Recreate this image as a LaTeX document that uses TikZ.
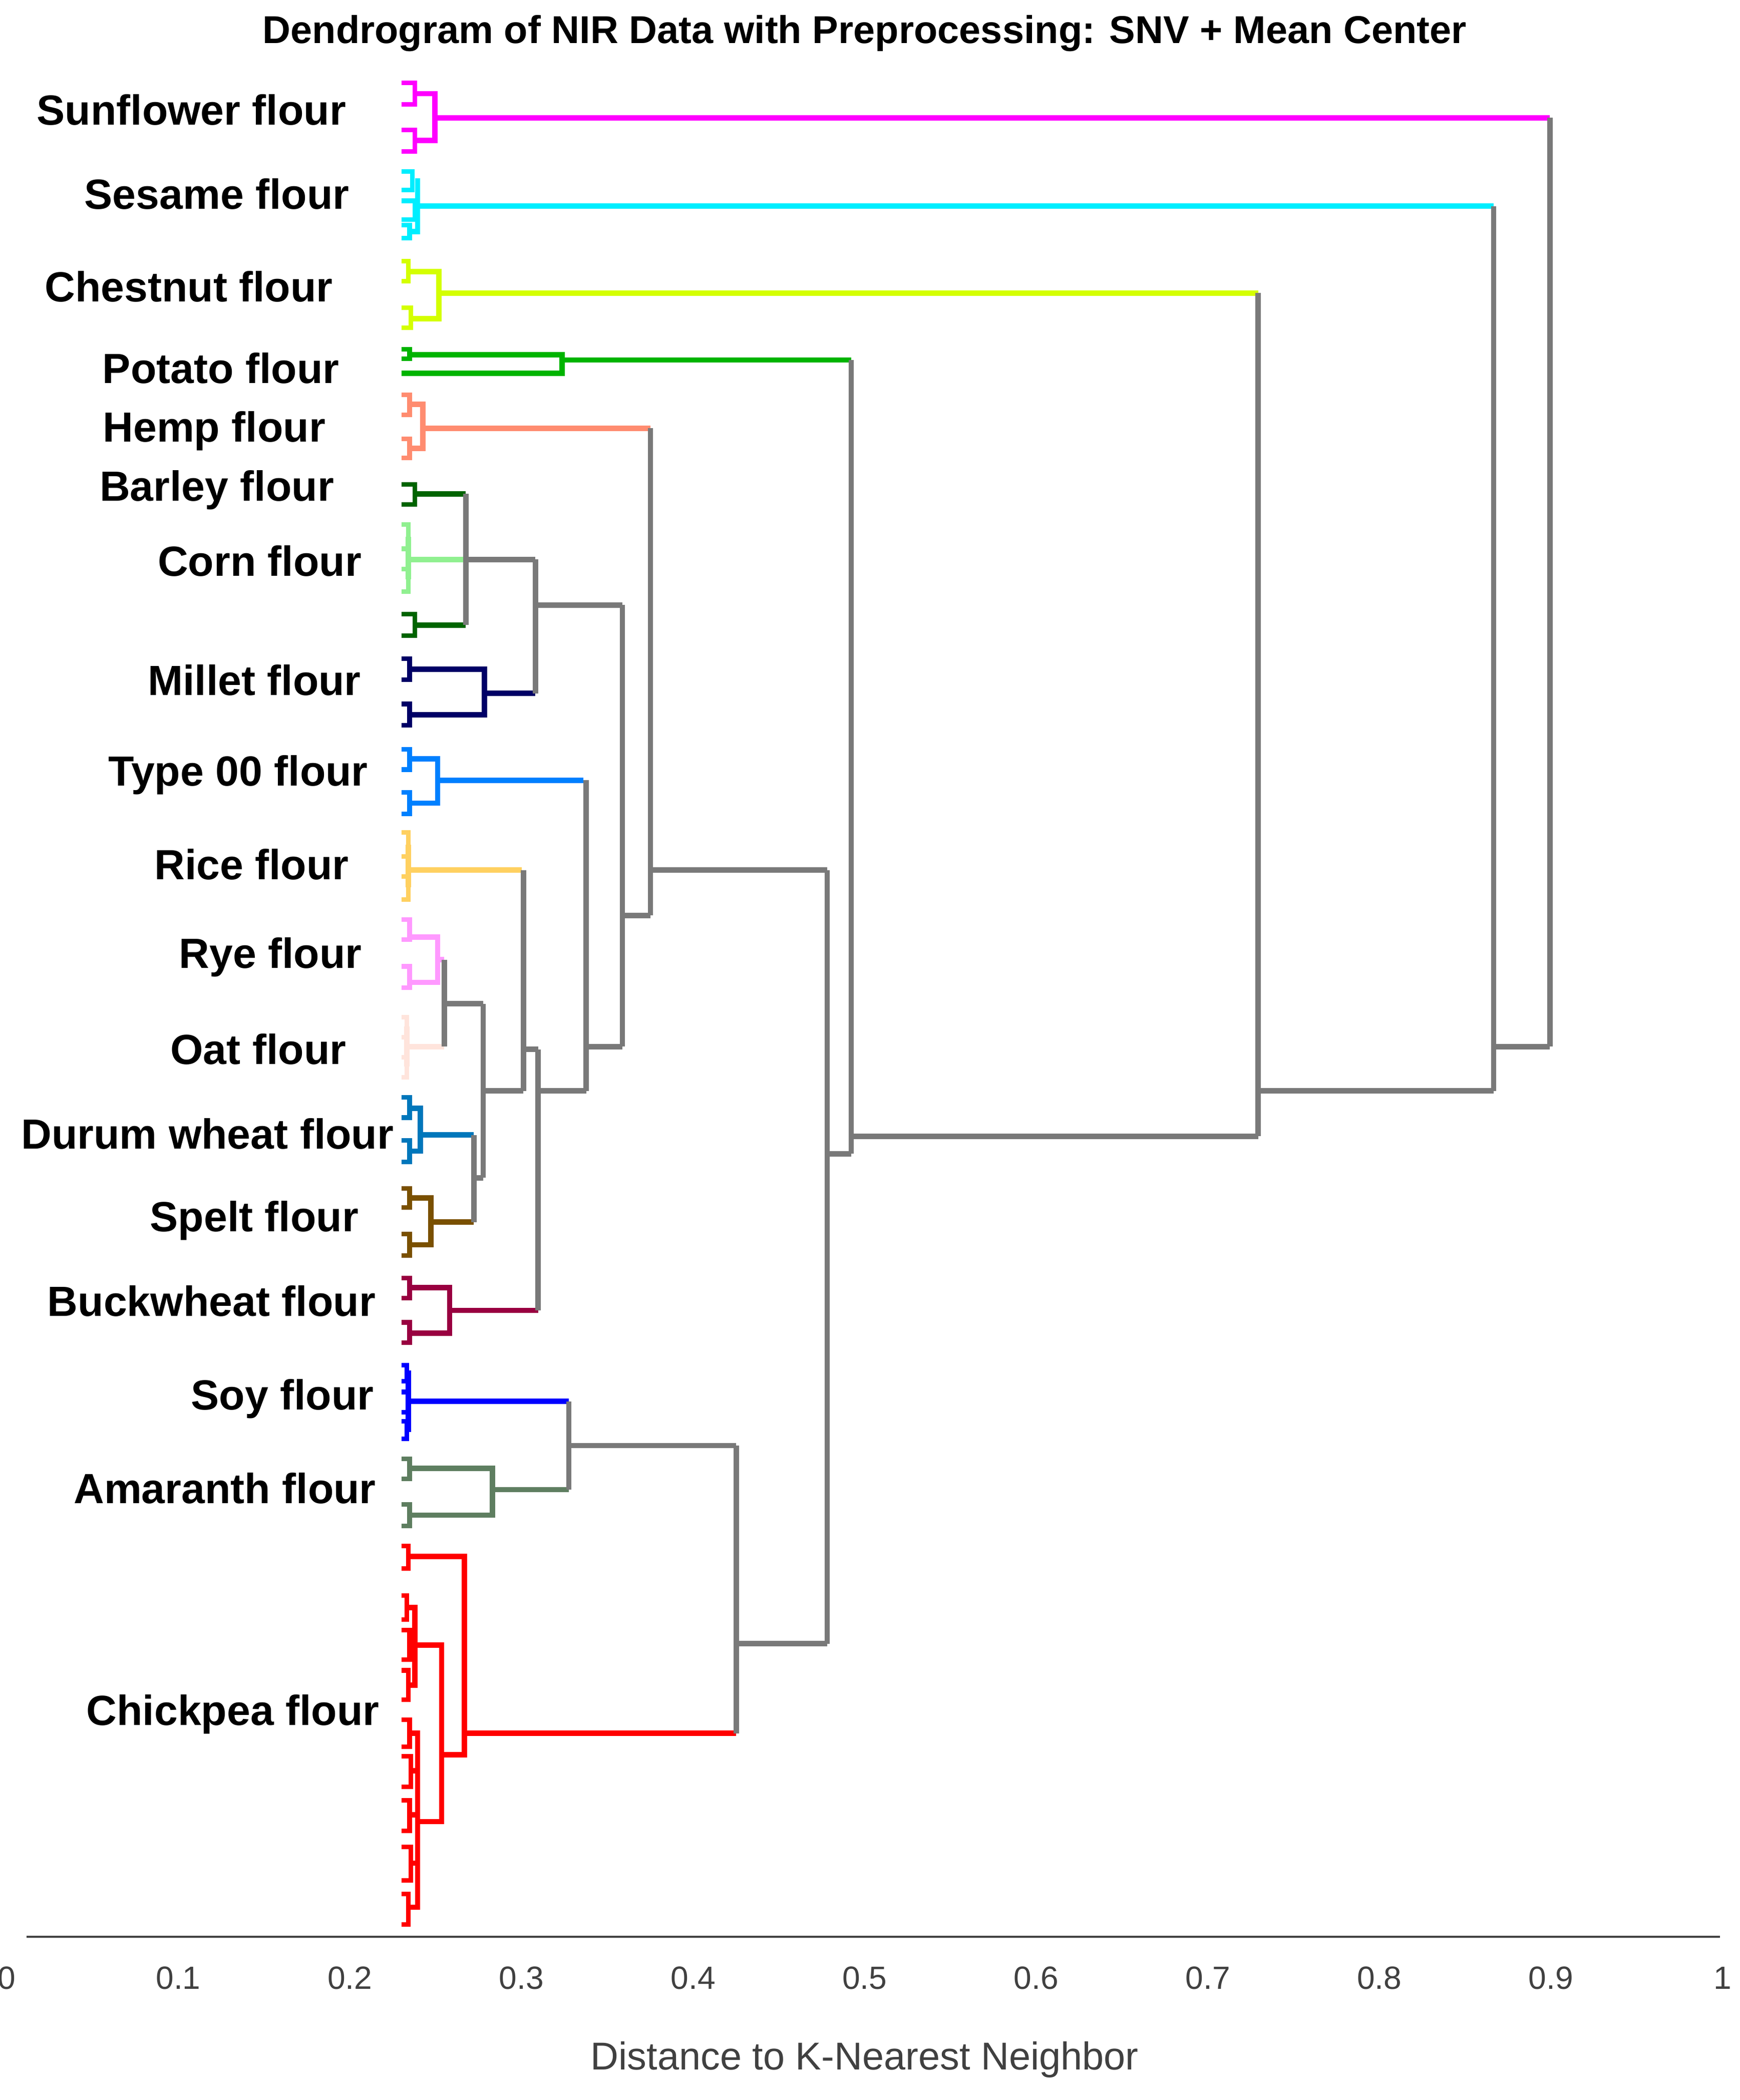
\documentclass[tikz,border=0pt]{standalone}
\usepackage{fontspec}
\setmainfont{Liberation Sans}
\begin{document}
\begin{tikzpicture}[x=1pt,y=-1pt,
  br/.style={line width=4pt,line cap=butt,line join=miter},
  lf/.style={line width=3.4pt},
  lab/.style={font=\bfseries\fontsize{31.5}{34}\selectfont,anchor=center},
  tick/.style={font=\fontsize{24}{28}\selectfont,text=black!75},
  gr/.style={br,draw=gray!95!black}]
\clip (0,0) rectangle (1300,1569);
\fill[white] (0,0) rectangle (1300,1569);
\definecolor{cMag}{HTML}{FF00FF}\definecolor{cCy}{HTML}{00EEFF}
\definecolor{cChe}{HTML}{D4FF00}\definecolor{cPot}{HTML}{00B400}
\definecolor{cHem}{HTML}{FF8C70}\definecolor{cBar}{HTML}{006400}
\definecolor{cCor}{HTML}{90F090}\definecolor{cMil}{HTML}{000066}
\definecolor{cTyp}{HTML}{0080FF}\definecolor{cRic}{HTML}{FFD060}
\definecolor{cRye}{HTML}{FF99FF}\definecolor{cOat}{HTML}{FFE4DC}
\definecolor{cDur}{HTML}{0077BB}\definecolor{cSpe}{HTML}{7A5000}
\definecolor{cBuc}{HTML}{990040}\definecolor{cSoy}{HTML}{0000FF}
\definecolor{cAma}{HTML}{5E7E60}\definecolor{cChi}{HTML}{FF0000}
\newcommand{\fk}[4]{\draw[lf,#1] (300,#2) -| (#4,#3) -- (300,#3);}
% title
\node[font=\bfseries\fontsize{29}{32}\selectfont] (title) at (646,25) {Dendrogram of NIR Data with Preprocessing: SNV + Mean Center};
% labels
\node[lab] (l1) at (143,82) {Sunflower flour};
\node[lab] (l2) at (162,145) {Sesame flour};
\node[lab] (l3) at (141,214) {Chestnut flour};
\node[lab] (l4) at (165,275) {Potato flour};
\node[lab] (l5) at (160,322) {Hemp flour};
\node[lab] (l6) at (162,366) {Barley flour};
\node[lab] (l7) at (194,419) {Corn flour};
\node[lab] (l8) at (190,508) {Millet flour};
\node[lab] (l9) at (178,579) {Type 00 flour};
\node[lab] (l10) at (188,646) {Rice flour};
\node[lab] (l11) at (202,715) {Rye flour};
\node[lab] (l12) at (193,784) {Oat flour};
\node[lab] (l13) at (155,847) {Durum wheat flour};
\node[lab] (l14) at (190,912) {Spelt flour};
\node[lab] (l15) at (158,972) {Buckwheat flour};
\node[lab] (l16) at (211,1045) {Soy flour};
\node[lab] (l17) at (168,1112) {Amaranth flour};
\node[lab] (l18) at (174,1281) {Chickpea flour};
% Sunflower
\fk{cMag}{62}{78}{310}\fk{cMag}{97}{113}{310}
\draw[br,cMag] (310,70) -| (325,105) -- (310,105); \draw[br,cMag] (325,88) -- (1158,88);
% Sesame
\fk{cCy}{128}{142}{308}\fk{cCy}{150}{164}{310}\fk{cCy}{168}{178}{306}
\draw[br,cCy] (310,135) -- (312,135) -- (312,173) -- (306,173); \draw[br,cCy] (312,154) -- (1116,154);
% Chestnut
\fk{cChe}{195}{210}{305}\fk{cChe}{230}{245}{307}
\draw[br,cChe] (305,203) -| (328,238) -- (307,238); \draw[br,cChe] (328,219) -- (940,219);
% Potato
\fk{cPot}{261}{268}{306}
\draw[br,cPot] (306,265) -| (420,279) -- (300,279); \draw[br,cPot] (420,269) -- (636,269);
% Hemp
\fk{cHem}{295}{310}{306}\fk{cHem}{328}{342}{306}
\draw[br,cHem] (306,302) -| (316,335) -- (306,335); \draw[br,cHem] (316,320) -- (486,320);
% Barley, Corn, darkgreen
\fk{cBar}{362}{377}{310} \draw[br,cBar] (310,369) -- (348,369);
\fk{cCor}{392}{410}{305}\fk{cCor}{425}{442}{305}
\draw[br,cCor] (305,401) -- (305,433); \draw[br,cCor] (305,418) -- (348,418);
\fk{cBar}{459}{475}{310} \draw[br,cBar] (310,467) -- (348,467);
% Millet
\fk{cMil}{492}{508}{306}\fk{cMil}{526}{542}{306}
\draw[br,cMil] (306,500) -| (362,534) -- (306,534); \draw[br,cMil] (362,518) -- (400,518);
% Type 00
\fk{cTyp}{560}{575}{306}\fk{cTyp}{592}{608}{306}
\draw[br,cTyp] (306,567) -| (327,600) -- (306,600); \draw[br,cTyp] (327,583) -- (436,583);
% Rice
\fk{cRic}{622}{640}{305}\fk{cRic}{655}{672}{305}
\draw[br,cRic] (305,631) -- (305,663); \draw[br,cRic] (305,650) -- (390,650);
% Rye
\fk{cRye}{687}{702}{306}\fk{cRye}{722}{738}{306}
\draw[br,cRye] (306,700) -| (327,734) -- (306,734); \draw[br,cRye] (327,717) -- (332,717);
% Oat
\fk{cOat}{760}{775}{304}\fk{cOat}{790}{805}{304}
\draw[br,cOat] (304,767) -- (304,797); \draw[br,cOat] (304,782) -- (332,782);
% Durum
\fk{cDur}{820}{835}{306}\fk{cDur}{852}{868}{306}
\draw[br,cDur] (306,828) -| (314,860) -- (306,860); \draw[br,cDur] (314,848) -- (354,848);
% Spelt
\fk{cSpe}{888}{902}{306}\fk{cSpe}{922}{938}{306}
\draw[br,cSpe] (306,895) -| (322,930) -- (306,930); \draw[br,cSpe] (322,913) -- (354,913);
% Buckwheat
\fk{cBuc}{955}{970}{306}\fk{cBuc}{988}{1003}{306}
\draw[br,cBuc] (306,962) -| (336,996) -- (306,996); \draw[br,cBuc] (336,979) -- (402,979);
% Soy
\fk{cSoy}{1020}{1032}{304}\fk{cSoy}{1040}{1055}{305}\fk{cSoy}{1062}{1075}{304}
\draw[br,cSoy] (304,1026) -- (305,1026) -- (305,1068) -- (304,1068); \draw[br,cSoy] (305,1047) -- (425,1047);
% Amaranth
\fk{cAma}{1090}{1105}{306}\fk{cAma}{1124}{1140}{306}
\draw[br,cAma] (306,1097) -| (368,1132) -- (306,1132); \draw[br,cAma] (368,1113) -- (425,1113);
% Chickpea
\fk{cChi}{1155}{1172}{305}
\fk{cChi}{1192}{1210}{304}\fk{cChi}{1218}{1240}{306}\fk{cChi}{1248}{1270}{305}
\draw[br,cChi] (304,1201) -| (310,1259) -- (305,1259);
\fk{cChi}{1285}{1305}{306}\fk{cChi}{1312}{1335}{307}\fk{cChi}{1345}{1368}{306}\fk{cChi}{1380}{1405}{307}\fk{cChi}{1415}{1438}{305}
\draw[br,cChi] (306,1295) -| (312,1425) -- (305,1425);
\draw[br,cChi] (307,1323) -- (312,1323); \draw[br,cChi] (306,1356) -- (312,1356); \draw[br,cChi] (307,1392) -- (312,1392);
\draw[br,cChi] (310,1229) -| (330,1361) -- (312,1361);
\draw[br,cChi] (305,1163) -| (347,1311) -- (330,1311);
\draw[br,cChi] (347,1295) -- (550,1295);
% gray upper structure
\draw[gr] (348,369) -- (348,467); \draw[gr] (348,418) -- (400,418);
\draw[gr] (400,418) -- (400,518); \draw[gr] (400,452) -- (465,452);
\draw[gr] (332,717) -- (332,782); \draw[gr] (332,750) -- (361,750);
\draw[gr] (354,848) -- (354,913); \draw[gr] (354,880) -- (361,880);
\draw[gr] (361,750) -- (361,880); \draw[gr] (361,815) -- (391,815);
\draw[gr] (391,650) -- (391,815); \draw[gr] (391,784) -- (402,784);
\draw[gr] (402,784) -- (402,979); \draw[gr] (402,815) -- (438,815);
\draw[gr] (438,583) -- (438,815); \draw[gr] (438,782) -- (465,782);
\draw[gr] (465,452) -- (465,782); \draw[gr] (465,684) -- (486,684);
\draw[gr] (486,320) -- (486,684); \draw[gr] (486,650) -- (618,650);
% lower gray
\draw[gr] (425,1047) -- (425,1113); \draw[gr] (425,1080) -- (550,1080);
\draw[gr] (550,1080) -- (550,1295); \draw[gr] (550,1228) -- (618,1228);
\draw[gr] (618,650) -- (618,1228); \draw[gr] (618,862) -- (636,862);
\draw[gr] (636,269) -- (636,862); \draw[gr] (636,849) -- (940,849);
\draw[gr] (940,219) -- (940,849); \draw[gr] (940,815) -- (1116,815);
\draw[gr] (1116,154) -- (1116,815); \draw[gr] (1116,782) -- (1158,782);
\draw[gr] (1158,88) -- (1158,782);
% axis
\coordinate (a0) at (20,1447); \coordinate (a1) at (1285,1447);
\draw[line width=1.5pt,black!75] (a0) -- (a1);
\foreach \v/\t in {0/0,1/0.1,2/0.2,3/0.3,4/0.4,5/0.5,6/0.6,7/0.7,8/0.8,9/0.9,10/1}
  \node[tick] (t\v) at ({5+128.2*\v},1478) {\t};
\node[font=\fontsize{29}{32}\selectfont,text=black!75] (xl) at (646,1539) {Distance to K-Nearest Neighbor};
\end{tikzpicture}
\end{document}
